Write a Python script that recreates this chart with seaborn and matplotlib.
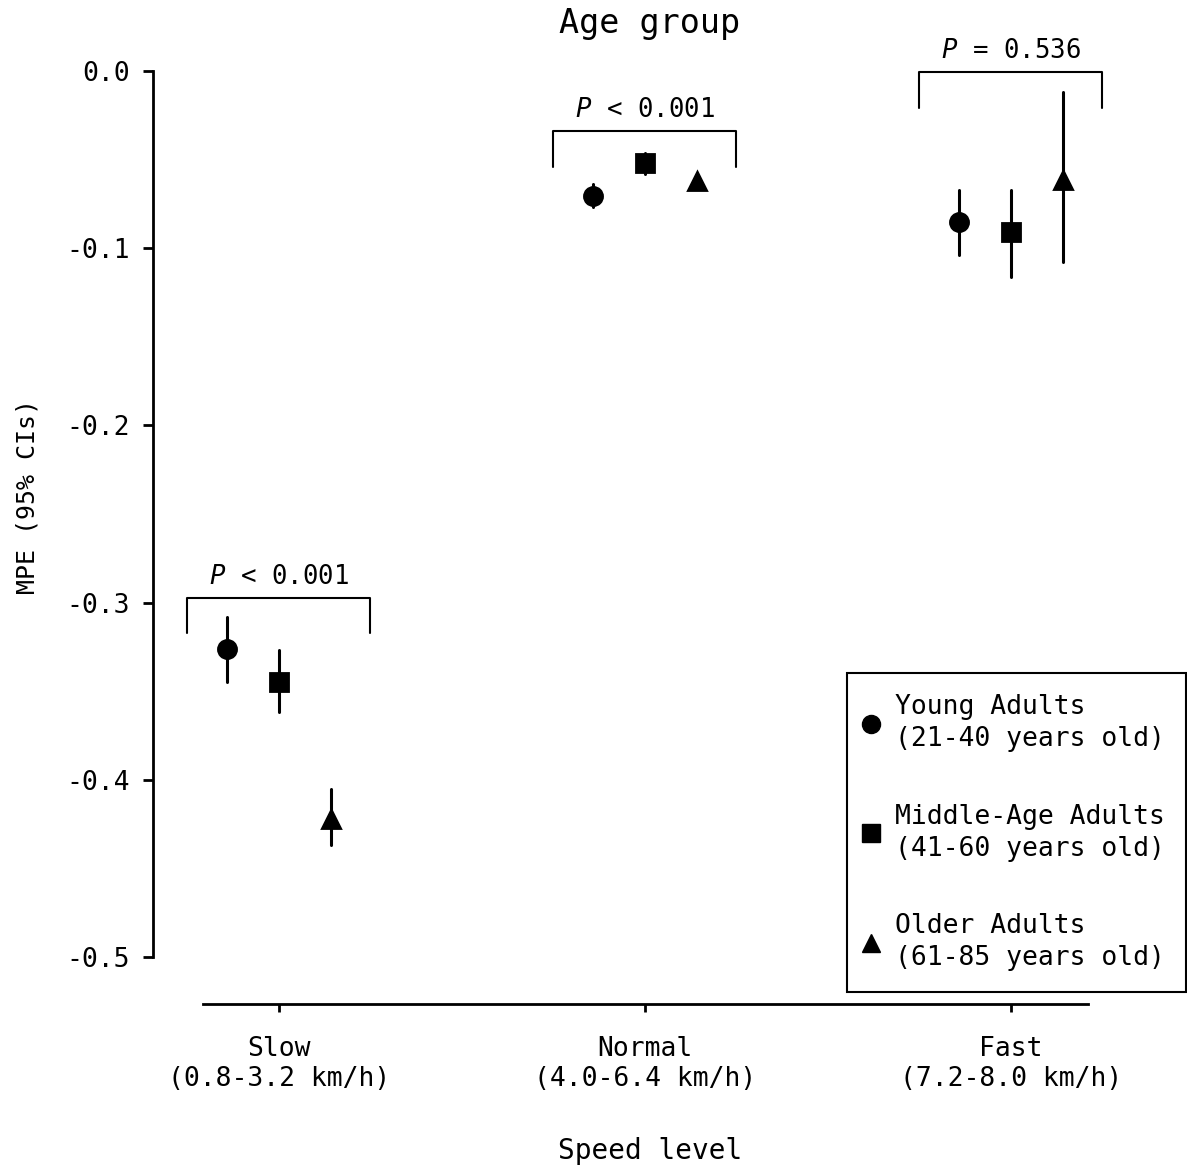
import numpy as np
import pandas as pd
import matplotlib
matplotlib.use("Agg")
import matplotlib.pyplot as plt
from matplotlib.lines import Line2D
import seaborn as sns

# datos
speeds = ["Slow", "Normal", "Fast"]
speed_ticks = ["Slow\n(0.8-3.2 km/h)", "Normal\n(4.0-6.4 km/h)", "Fast\n(7.2-8.0 km/h)"]
groups = ["Young Adults", "Middle-Age Adults", "Older Adults"]
group_ticks = ["Young Adults\n(21-40 years old)",
               "Middle-Age Adults\n(41-60 years old)",
               "Older Adults\n(61-85 years old)"]

young_mpe = [-0.326, -0.0705, -0.085]
young_lo = [-0.345, -0.077, -0.104]
young_hi = [-0.308, -0.064, -0.067]

middle_mpe = [-0.345, -0.052, -0.091]
middle_lo = [-0.362, -0.058, -0.116]
middle_hi = [-0.327, -0.046, -0.067]

older_mpe = [-0.422, -0.062, -0.0615]
older_lo = [-0.437, -0.064, -0.108]
older_hi = [-0.405, -0.060, -0.012]

p_text = ["$P$ < 0.001", "$P$ < 0.001", "$P$ = 0.536"]
bracket_top = [-0.2974, -0.0339, -0.0006]

# tabla larga: lo, media, hi -> mediana = media, rango = IC
rows = []
for g, mpe, lo, hi in zip(groups,
                          [young_mpe, middle_mpe, older_mpe],
                          [young_lo, middle_lo, older_lo],
                          [young_hi, middle_hi, older_hi]):
    for s, m, l, h in zip(speeds, mpe, lo, hi):
        for v in (l, m, h):
            rows.append({"Speed": s, "Group": g, "MPE": v})
df = pd.DataFrame(rows)

sns.set_theme(style="ticks")
plt.rcParams['font.family'] = ['DejaVu Sans Mono', 'DejaVu Sans']
plt.rcParams['axes.unicode_minus'] = False
plt.rcParams['mathtext.fontset'] = 'custom'
plt.rcParams['mathtext.it'] = 'DejaVu Sans Mono:italic'
plt.rcParams['mathtext.rm'] = 'DejaVu Sans Mono'
for k in ['text.color', 'axes.labelcolor', 'xtick.color', 'ytick.color', 'axes.edgecolor']:
    plt.rcParams[k] = 'black'

fig = plt.figure(figsize=(11.87, 11.66), dpi=100)
ax = fig.add_axes([153/1187, 1 - 957/1166, 1000/1187, 886/1166])

sns.pointplot(data=df, x="Speed", y="MPE", hue="Group",
              order=speeds, hue_order=groups,
              estimator="median", errorbar=("pi", 100),
              markers=["o", "s", "^"], linestyle="none",
              dodge=0.284, palette=["black"] * 3,
              markersize=13, err_kws={"linewidth": 2.2}, ax=ax)

ax.set_xlim((153 - 279) / 366, (1153 - 279) / 366)
ax.set_ylim(-0.5, 0)
ax.set_yticks([-0.5, -0.4, -0.3, -0.2, -0.1, 0.0])
ax.set_yticklabels([f"{t:.1f}" for t in [-0.5, -0.4, -0.3, -0.2, -0.1, 0.0]])
ax.set_xticks(range(len(speeds)))
ax.set_xticklabels(speed_ticks)
for t in ax.get_xticklabels():
    t.set_linespacing(1.3)

sns.despine(ax=ax)
ax.spines['left'].set_linewidth(2)
ax.spines['bottom'].set_linewidth(2)
ax.spines['left'].set_bounds(-0.5, 0)
ax.spines['bottom'].set_position(('outward', 34))
ax.spines['bottom'].set_bounds(-0.208, 2.21)
ax.tick_params(axis='y', length=7, width=2, pad=10, labelsize=19, color='black')
ax.tick_params(axis='x', length=6, width=2, pad=17, labelsize=19, color='black')

# corchetes con valor P
for i, (top, txt) in enumerate(zip(bracket_top, p_text)):
    ax.plot([i - 0.25, i - 0.25, i + 0.25, i + 0.25],
            [top - 0.02, top, top, top - 0.02],
            color='black', linewidth=1.5, clip_on=False)
    ax.annotate(txt, (i, top), xytext=(0, 15), textcoords='offset points',
                ha='center', va='center', fontsize=18.5)

ax.set_xlabel("Speed level", fontsize=20)
ax.xaxis.set_label_coords((650 - 153) / 1000, (957 - 1137) / 886)
ax.set_ylabel("MPE (95% CIs)", fontsize=18)
ax.yaxis.set_label_coords((40 - 153) / 1000, (957 - 496) / 886)
fig.text(650 / 1187, 1 - 24 / 1166, "Age group", fontsize=24, ha='center', va='center')

handles = [Line2D([], [], marker=m, color='black', linestyle='none', markersize=13)
           for m in ["o", "s", "^"]]
leg = ax.legend(handles, group_ticks, loc='upper left',
                bbox_to_anchor=(847/1187, 1 - 673/1166), bbox_transform=fig.transFigure,
                borderaxespad=0, fontsize=19, handlelength=0.2, handletextpad=0.83,
                borderpad=0.8, labelspacing=1.95, frameon=True, fancybox=False,
                framealpha=1, edgecolor='black')
for t in leg.get_texts():
    t.set_linespacing(1.3)
leg.get_frame().set_linewidth(1.5)

fig.savefig("out.png", dpi=100, facecolor='white')
